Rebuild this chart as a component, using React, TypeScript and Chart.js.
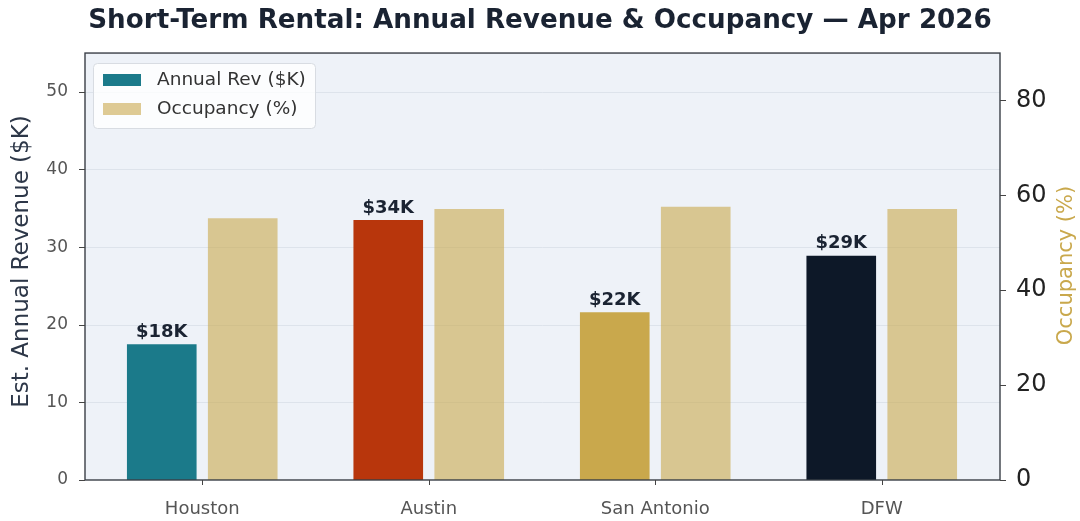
import React, { useEffect, useRef } from 'react';
import { Chart, registerables } from 'chart.js';

Chart.register(...registerables);

const titleText = 'Short-Term Rental: Annual Revenue & Occupancy — Apr 2026';
const cities = ['Houston', 'Austin', 'San Antonio', 'DFW'];
const annualRevK = [17.5, 33.5, 21.6, 28.9];
const occupancyPct = [55.2, 57.1, 57.6, 57.1];
const revColors = ['#1b7a8a', '#b8360c', '#c9a84c', '#0d1828'];
const occColor = 'rgba(201,168,76,0.6)';
const revAxisTicks = [0, 10, 20, 30, 40, 50];
const occAxisTicks = [0, 20, 40, 60, 80];
const revLabel = 'Annual Rev ($K)';
const occLabel = 'Occupancy (%)';
const leftTitle = 'Est. Annual Revenue ($K)';
const rightTitle = 'Occupancy (%)';

const FONT = '"DejaVu Sans", sans-serif';
// frame (axes box) edges
const FRAME_L = 85;
const FRAME_R = 1000;

const decorPlugin = {
  id: 'decor',
  beforeDraw(chart: any) {
    const { ctx, chartArea: a } = chart;
    ctx.save();
    ctx.fillStyle = '#ffffff';
    ctx.fillRect(0, 0, chart.width, chart.height);
    ctx.fillStyle = '#eef2f8';
    ctx.fillRect(FRAME_L, a.top, FRAME_R - FRAME_L, a.bottom - a.top);
    ctx.restore();
  },
  beforeDatasetsDraw(chart: any) {
    const { ctx } = chart;
    const ys = chart.scales.y;
    ctx.save();
    ctx.strokeStyle = '#dde3eb';
    ctx.lineWidth = 1;
    revAxisTicks.forEach((v) => {
      if (v === 0) return;
      const py = Math.round(ys.getPixelForValue(v)) + 0.5;
      ctx.beginPath();
      ctx.moveTo(FRAME_L, py);
      ctx.lineTo(FRAME_R, py);
      ctx.stroke();
    });
    ctx.restore();
  },
  afterDatasetsDraw(chart: any) {
    const { ctx, chartArea: a } = chart;
    const ys = chart.scales.y;
    const ys2 = chart.scales.y2;
    const xs = chart.scales.x;
    ctx.save();
    // frame
    ctx.strokeStyle = '#3a3f47';
    ctx.lineWidth = 1.4;
    ctx.strokeRect(FRAME_L, a.top, FRAME_R - FRAME_L, a.bottom - a.top);
    // tick marks
    ctx.strokeStyle = '#444';
    ctx.lineWidth = 1;
    revAxisTicks.forEach((v) => {
      const py = Math.round(ys.getPixelForValue(v)) + 0.5;
      ctx.beginPath();
      ctx.moveTo(FRAME_L - 6, py);
      ctx.lineTo(FRAME_L, py);
      ctx.stroke();
    });
    occAxisTicks.forEach((v) => {
      const py = Math.round(ys2.getPixelForValue(v)) + 0.5;
      ctx.beginPath();
      ctx.moveTo(FRAME_R, py);
      ctx.lineTo(FRAME_R + 6, py);
      ctx.stroke();
    });
    cities.forEach((_, i) => {
      const px = Math.round(xs.getPixelForValue(i)) + 0.5;
      ctx.beginPath();
      ctx.moveTo(px, a.bottom);
      ctx.lineTo(px, a.bottom + 5);
      ctx.stroke();
    });
    // value labels
    const meta = chart.getDatasetMeta(0);
    ctx.fillStyle = '#1a2332';
    ctx.font = `bold 18px ${FONT}`;
    ctx.textAlign = 'center';
    ctx.textBaseline = 'bottom';
    meta.data.forEach((bar: any, i: number) => {
      ctx.fillText(`$${Math.round(annualRevK[i])}K`, bar.x, bar.y - 3);
    });
    ctx.restore();
  },
  afterDraw(chart: any) {
    const { ctx, chartArea: a } = chart;
    ctx.save();
    // legend box
    const lx = 93, ly = 63, lw = 222, lh = 65;
    ctx.fillStyle = 'rgba(255,255,255,0.8)';
    ctx.strokeStyle = '#d8dce2';
    ctx.lineWidth = 1;
    ctx.beginPath();
    (ctx as any).roundRect(lx + 0.5, ly + 0.5, lw, lh, 4);
    ctx.fill();
    ctx.stroke();
    const items = [
      { color: revColors[0], text: revLabel, y: 80 },
      { color: occColor, text: occLabel, y: 109 },
    ];
    ctx.font = `18.5px ${FONT}`;
    ctx.textBaseline = 'middle';
    ctx.textAlign = 'left';
    items.forEach((it) => {
      ctx.fillStyle = it.color;
      ctx.fillRect(103, it.y - 6, 38, 12);
      ctx.fillStyle = '#333333';
      ctx.fillText(it.text, 157, it.y);
    });
    // axis titles
    const cy = (a.top + a.bottom) / 2;
    ctx.textAlign = 'center';
    ctx.textBaseline = 'middle';
    ctx.save();
    ctx.translate(22, cy - 5);
    ctx.rotate(-Math.PI / 2);
    ctx.fillStyle = '#2d3748';
    ctx.font = `23px ${FONT}`;
    ctx.fillText(leftTitle, 0, 0);
    ctx.restore();
    ctx.save();
    ctx.translate(1067, cy - 1);
    ctx.rotate(-Math.PI / 2);
    ctx.fillStyle = '#c9a84c';
    ctx.font = `21px ${FONT}`;
    ctx.fillText(rightTitle, 0, 0);
    ctx.restore();
    ctx.restore();
  },
};

export default function App() {
  const ref = useRef<HTMLCanvasElement | null>(null);
  useEffect(() => {
    document.body.style.margin = '0';
    const canvas = ref.current;
    if (!canvas) return;
    const chart = new Chart(canvas, {
      type: 'bar',
      data: {
        labels: cities,
        datasets: [
          {
            label: revLabel,
            data: annualRevK,
            backgroundColor: revColors,
            yAxisID: 'y',
            categoryPercentage: 0.715,
            barPercentage: 0.86,
          },
          {
            label: occLabel,
            data: occupancyPct,
            backgroundColor: occColor,
            yAxisID: 'y2',
            categoryPercentage: 0.715,
            barPercentage: 0.86,
          },
        ],
      },
      options: {
        responsive: false,
        animation: false,
        devicePixelRatio: 1,
        layout: { padding: 0 },
        plugins: {
          legend: { display: false },
          tooltip: { enabled: false },
          title: {
            display: true,
            text: titleText,
            color: '#1a2332',
            font: { family: FONT, size: 26.2, weight: 'bold' },
            padding: { top: 5, bottom: 16.6 },
          },
        },
        scales: {
          x: {
            type: 'category',
            offset: true,
            afterFit: (s: any) => { s.height = 41; },
            grid: { display: false, drawTicks: false },
            border: { display: false },
            ticks: {
              color: '#555555',
              font: { family: FONT, size: 18 },
              padding: 19,
            },
          },
          y: {
            type: 'linear',
            position: 'left',
            min: 0,
            max: 55,
            afterFit: (s: any) => { s.width = 89; },
            afterBuildTicks: (s: any) => {
              s.ticks = revAxisTicks.map((v) => ({ value: v }));
            },
            grid: { display: false, drawTicks: false },
            border: { display: false },
            ticks: {
              color: '#555555',
              font: { family: FONT, size: 17 },
              padding: 21,
            },
          },
          y2: {
            type: 'linear',
            position: 'right',
            min: 0,
            max: 90,
            afterFit: (s: any) => { s.width = 85; },
            afterBuildTicks: (s: any) => {
              s.ticks = occAxisTicks.map((v) => ({ value: v }));
            },
            grid: { display: false, drawTicks: false },
            border: { display: false },
            ticks: {
              color: '#222222',
              font: { family: FONT, size: 24 },
              padding: 21,
            },
          },
        },
      },
      plugins: [decorPlugin],
    } as any);
    return () => chart.destroy();
  }, []);
  return (
    <div style={{ width: 1080, height: 521 }}>
      <canvas ref={ref} width={1080} height={521} style={{ display: 'block' }} />
    </div>
  );
}
